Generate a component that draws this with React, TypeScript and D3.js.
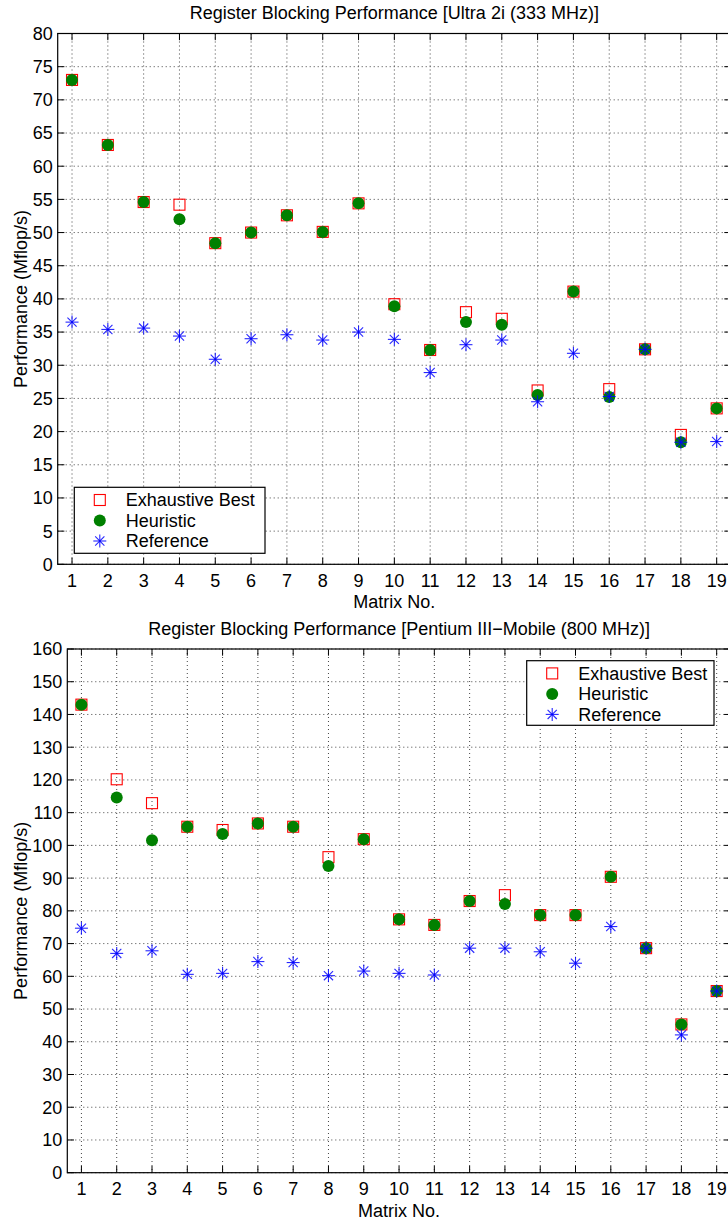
import React from "react";
import * as d3 from "d3";

const matrices = [1, 2, 3, 4, 5, 6, 7, 8, 9, 10, 11, 12, 13, 14, 15, 16, 17, 18, 19];

const ultraExhaustive = [73.0, 63.2, 54.6, 54.2, 48.4, 50.0, 52.6, 50.1, 54.4, 39.2, 32.3, 38.0, 37.0, 26.2, 41.1, 26.4, 32.4, 19.5, 23.5];
const ultraHeuristic = [73.0, 63.2, 54.6, 52.0, 48.4, 50.0, 52.6, 50.1, 54.4, 38.9, 32.3, 36.5, 36.1, 25.5, 41.1, 25.2, 32.4, 18.4, 23.5];
const ultraReference = [36.5, 35.4, 35.6, 34.4, 30.9, 34.0, 34.6, 33.8, 35.0, 33.9, 28.9, 33.1, 33.8, 24.5, 31.8, 25.3, 32.4, 18.4, 18.5];
const ultraYTicks = [0, 5, 10, 15, 20, 25, 30, 35, 40, 45, 50, 55, 60, 65, 70, 75, 80];

const p3Exhaustive = [143.0, 120.2, 112.9, 105.7, 104.7, 106.7, 105.7, 96.4, 101.9, 77.4, 75.7, 83.0, 84.8, 78.7, 78.7, 90.4, 68.6, 45.3, 55.5];
const p3Heuristic = [143.0, 114.6, 101.6, 105.7, 103.5, 106.7, 105.7, 93.7, 101.9, 77.4, 75.7, 83.0, 82.1, 78.7, 78.7, 90.4, 68.6, 45.3, 55.5];
const p3Reference = [74.7, 67.0, 67.8, 60.6, 60.9, 64.5, 64.2, 60.2, 61.6, 60.9, 60.4, 68.6, 68.6, 67.5, 64.0, 75.2, 68.6, 42.1, 55.5];
const p3YTicks = [0, 10, 20, 30, 40, 50, 60, 70, 80, 90, 100, 110, 120, 130, 140, 150, 160];

const seriesNames = ["Exhaustive Best", "Heuristic", "Reference"];

const FONT = "'Liberation Sans', Arial, Helvetica, sans-serif";
const FS = 18;
const RED = "#ff0000";
const GREEN = "#008000";
const BLUE = "#0000ff";

function Square({ x, y }: { x: number; y: number }) {
  const s = 11;
  return <rect x={x - s / 2} y={y - s / 2} width={s} height={s} fill="none" stroke={RED} strokeWidth={1.1} />;
}
function Dot({ x, y }: { x: number; y: number }) {
  return <circle cx={x} cy={y} r={6} fill={GREEN} />;
}
function Star({ x, y }: { x: number; y: number }) {
  const a = 6.5;
  const d = 4.6;
  return (
    <g stroke={BLUE} strokeWidth={1.1} strokeOpacity={0.85}>
      <line x1={x - a} y1={y} x2={x + a} y2={y} />
      <line x1={x} y1={y - a} x2={x} y2={y + a} />
      <line x1={x - d} y1={y - d} x2={x + d} y2={y + d} />
      <line x1={x - d} y1={y + d} x2={x + d} y2={y - d} />
    </g>
  );
}

type PanelProps = {
  title: string;
  left: number;
  right: number;
  top: number;
  bottom: number;
  yMax: number;
  yTicks: number[];
  exhaustive: number[];
  heuristic: number[];
  reference: number[];
  legendBox: { x: number; y: number; w: number; h: number };
};

function Panel(p: PanelProps) {
  const x = d3.scaleLinear().domain([0.6, 19.4]).range([p.left, p.right]);
  const y = d3.scaleLinear().domain([0, p.yMax]).range([p.bottom, p.top]);
  const tl = 6.7;
  const cx = (p.left + p.right) / 2;
  const cy = (p.top + p.bottom) / 2;
  const lb = p.legendBox;
  const rowH = 20.5;
  return (
    <g fontFamily={FONT} fontSize={FS} fill="#000">
      <text x={cx} y={p.top - 14.3} textAnchor="middle">{p.title}</text>
      {/* grid */}
      <g stroke="#444" strokeWidth={1} strokeDasharray="1 3">
        {matrices.map((m) => (
          <line key={"gx" + m} x1={x(m)} x2={x(m)} y1={p.top} y2={p.bottom} />
        ))}
        {p.yTicks.map((t) => (
          <line key={"gy" + t} x1={p.left} x2={p.right} y1={y(t)} y2={y(t)} />
        ))}
      </g>
      {/* ticks */}
      <g stroke="#000" strokeWidth={1}>
        {matrices.map((m) => (
          <g key={"tx" + m}>
            <line x1={x(m)} x2={x(m)} y1={p.bottom} y2={p.bottom - tl} />
            <line x1={x(m)} x2={x(m)} y1={p.top} y2={p.top + tl} />
          </g>
        ))}
        {p.yTicks.map((t) => (
          <g key={"ty" + t}>
            <line x1={p.left} x2={p.left + tl} y1={y(t)} y2={y(t)} />
            <line x1={p.right} x2={p.right - tl} y1={y(t)} y2={y(t)} />
          </g>
        ))}
      </g>
      <rect x={p.left} y={p.top} width={p.right - p.left} height={p.bottom - p.top} fill="none" stroke="#000" strokeWidth={1.2} />
      {/* tick labels */}
      {matrices.map((m) => (
        <text key={"lx" + m} x={x(m)} y={p.bottom + 22.5} textAnchor="middle">{m}</text>
      ))}
      {p.yTicks.map((t) => (
        <text key={"ly" + t} x={p.left - 5} y={y(t) + 6.4} textAnchor="end">{t}</text>
      ))}
      <text x={cx} y={p.bottom + 44} textAnchor="middle">Matrix No.</text>
      <text transform={`translate(27,${cy}) rotate(-90)`} textAnchor="middle">Performance (Mflop/s)</text>
      {/* marks */}
      {matrices.map((m, i) => <Square key={"s" + m} x={x(m)} y={y(p.exhaustive[i])} />)}
      {matrices.map((m, i) => <Dot key={"c" + m} x={x(m)} y={y(p.heuristic[i])} />)}
      {matrices.map((m, i) => <Star key={"r" + m} x={x(m)} y={y(p.reference[i])} />)}
      {/* legend */}
      <rect x={lb.x} y={lb.y} width={lb.w} height={lb.h} fill="#fff" stroke="#000" strokeWidth={1.2} />
      {seriesNames.map((n, i) => {
        const ry = lb.y + 12.7 + i * rowH;
        const mx = lb.x + 25.5;
        return (
          <g key={n}>
            {i === 0 && <Square x={mx} y={ry} />}
            {i === 1 && <Dot x={mx} y={ry} />}
            {i === 2 && <Star x={mx} y={ry} />}
            <text x={lb.x + 51.5} y={ry + 6.4}>{n}</text>
          </g>
        );
      })}
    </g>
  );
}

const ultraTitle = "Register Blocking Performance [Ultra 2i (333 MHz)]";
const p3Title = "Register Blocking Performance [Pentium III\u2212Mobile (800 MHz)]";

export default function App() {
  return (
    <div style={{ position: "absolute", left: 0, top: 0, width: 728, height: 1220, background: "#fff" }}>
      <svg width={728} height={1220} viewBox="0 0 728 1220" style={{ display: "block" }}>
        <rect x={0} y={0} width={728} height={1220} fill="#fff" />
        <Panel
          title={ultraTitle}
          left={57.7}
          right={731}
          top={33.5}
          bottom={564.3}
          yMax={80}
          yTicks={ultraYTicks}
          exhaustive={ultraExhaustive}
          heuristic={ultraHeuristic}
          reference={ultraReference}
          legendBox={{ x: 74.3, y: 487.3, w: 190.7, h: 66 }}
        />
        <Panel
          title={p3Title}
          left={67.3}
          right={730.8}
          top={649}
          bottom={1172.7}
          yMax={160}
          yTicks={p3YTicks}
          exhaustive={p3Exhaustive}
          heuristic={p3Heuristic}
          reference={p3Reference}
          legendBox={{ x: 526.7, y: 660.7, w: 187.3, h: 64.6 }}
        />
      </svg>
    </div>
  );
}
